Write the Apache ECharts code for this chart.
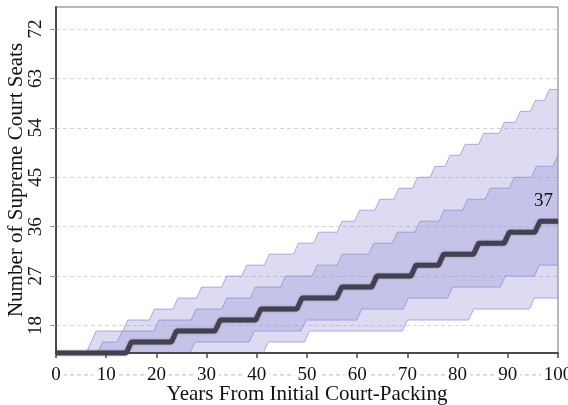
<!DOCTYPE html>
<html><head><meta charset="utf-8">
<script src="https://cdn.jsdelivr.net/npm/echarts@6/dist/echarts.min.js"></script>
<style>html,body{margin:0;padding:0;background:#fff}#c{width:568px;height:405px}</style>
</head><body><div id="c"></div>
<script>
// ---- data ----
const startSeats = 13;
const endYear = 100;
const riseYears = 1;
const xTicks = [0, 10, 20, 30, 40, 50, 60, 70, 80, 90, 100];
const yTicks = [18, 27, 36, 45, 54, 63, 72];
const belowAxisGuide = 9;

const outerUpperYears = [6, 7, 13.3, 18.6, 23.3, 28, 33, 37, 41.5, 47.3, 51.3, 56, 59.5, 63.5, 67.3, 71, 74.5, 77.5, 80.5, 84.2, 88.3, 91.5, 94.5, 97.3];
const outerUpperSeats = [15, 17, 19, 21, 23, 25, 27, 29, 31, 33, 35, 37, 39, 41, 43, 45, 47, 49, 51, 53, 55, 57, 59, 61];

const innerUpperYears = [8.3, 12.2, 19.5, 26.9, 33, 38.7, 44.7, 51, 56, 62.3, 67, 71.5, 76.3, 81, 85.5, 90.3, 94.7, 99];
const innerUpperSeats = [15, 17, 19, 21, 23, 25, 27, 29, 31, 33, 35, 37, 39, 41, 43, 45, 47, 49];

const medianYears = [14, 23, 31.7, 39.8, 48, 55.9, 62.9, 70.7, 76.2, 83.2, 89.3, 95.4];
const medianSeats = [15, 17, 19, 21, 23, 25, 27, 29, 31, 33, 35, 37];

const innerLowerYears = [26.7, 38.5, 48.8, 59.9, 69.2, 78, 88.5, 95.3];
const innerLowerSeats = [15, 17, 19, 21, 23, 25, 27, 29];

const outerLowerYears = [41.3, 49.5, 69, 82.2, 94.3];
const outerLowerSeats = [15, 17, 19, 21, 23];

// ---- build stair corner points from the step readings ----
function stair(years, seats) {
  const pts = [[0, startSeats]];
  let prev = startSeats;
  years.forEach((t, i) => {
    pts.push([t, prev]);
    pts.push([Math.min(t + riseYears, endYear), seats[i]]);
    prev = seats[i];
  });
  pts.push([endYear, prev]);
  return pts;
}

const FONT = '"Liberation Serif", "Times New Roman", serif';
const bands = [
  { upper: stair(outerUpperYears, outerUpperSeats), lower: stair(outerLowerYears, outerLowerSeats),
    fill: 'rgba(150,145,214,0.33)', edge: 'rgba(135,130,215,0.65)' },
  { upper: stair(innerUpperYears, innerUpperSeats), lower: stair(innerLowerYears, innerLowerSeats),
    fill: 'rgba(150,145,210,0.32)', edge: 'rgba(135,130,212,0.65)' }
];

const medianPts = stair(medianYears, medianSeats);

const chart = echarts.init(document.getElementById('c'), null, { renderer: 'canvas' });

function renderBand(params, api) {
  const b = bands[params.dataIndex];
  const up = b.upper.map(p => api.coord(p));
  const lo = b.lower.map(p => api.coord(p));
  const poly = up.concat(lo.slice().reverse());
  return {
    type: 'group',
    children: [
      { type: 'polygon', shape: { points: poly }, style: { fill: b.fill, stroke: null } },
      { type: 'polyline', shape: { points: up }, style: { stroke: b.edge, fill: null, lineWidth: 1 } },
      { type: 'polyline', shape: { points: lo }, style: { stroke: b.edge, fill: null, lineWidth: 1 } }
    ]
  };
}

const option = {
  animation: false,
  grid: { left: 56, right: 10, top: 7, bottom: 52, show: true, borderColor: '#777', borderWidth: 1,
    outerBoundsMode: 'none', containLabel: false },
  xAxis: {
    type: 'value', min: xTicks[0], max: xTicks[xTicks.length - 1], interval: 10, z: 3,
    name: 'Years From Initial Court-Packing', nameLocation: 'middle', nameGap: 31, nameMoveOverlap: false,
    nameTextStyle: { fontFamily: FONT, fontSize: 21, color: '#111' },
    axisLine: { show: true, lineStyle: { color: '#4a4a4a', width: 2 } },
    axisTick: { show: true, length: 5, lineStyle: { color: '#4a4a4a', width: 1.5 } },
    axisLabel: { fontFamily: FONT, fontSize: 19, color: '#111', margin: 13, backgroundColor: '#fff', padding: [0, 3] },
    splitLine: { show: false }
  },
  yAxis: {
    type: 'value', min: startSeats, max: 76,
    name: 'Number of Supreme Court Seats', nameLocation: 'middle', nameGap: 29, nameMoveOverlap: false,
    nameTextStyle: { fontFamily: FONT, fontSize: 21, color: '#111' },
    axisLine: { show: true, lineStyle: { color: '#4a4a4a', width: 2 } },
    axisTick: { show: true, length: 6, customValues: yTicks, lineStyle: { color: '#999', width: 1 } },
    axisLabel: { customValues: yTicks, rotate: 90, margin: 10, fontFamily: FONT, fontSize: 19, color: '#111' },
    splitLine: { show: true, lineStyle: { color: '#d6d6d6', width: 1, type: [4, 3] } }
  },
  series: [
    { type: 'custom', renderItem: renderBand, data: bands.map(() => [0, startSeats]), z: 2, silent: true },
    { type: 'line', data: medianPts, symbol: 'none', showSymbol: false, clip: false, z: 5,
      lineStyle: { color: '#43414f', width: 5, shadowColor: 'rgba(60,58,80,0.5)', shadowBlur: 2 },
      endLabel: { show: true, formatter: (d) => String(d.value[1]), distance: 0, offset: [-24, -20],
        fontFamily: FONT, fontSize: 19, color: '#111' } }
  ]
};
chart.setOption(option);

const yGuide = chart.convertToPixel({ yAxisIndex: 0 }, belowAxisGuide);
const xL = chart.convertToPixel({ xAxisIndex: 0 }, xTicks[0]);
const xR = chart.convertToPixel({ xAxisIndex: 0 }, xTicks[xTicks.length - 1]);
chart.setOption({
  graphic: [{ type: 'line', z: 1, shape: { x1: xL, y1: yGuide, x2: xR, y2: yGuide },
    style: { stroke: '#b8b8b8', lineWidth: 1, lineDash: [4, 3] } }]
});
</script>
</body></html>
